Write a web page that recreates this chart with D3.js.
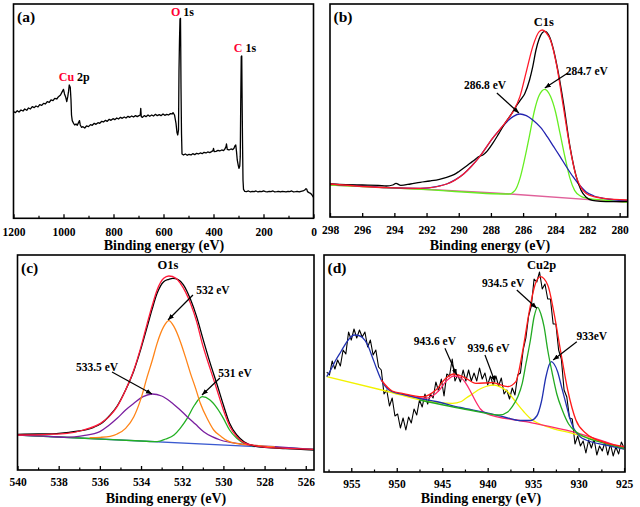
<!DOCTYPE html>
<html><head><meta charset="utf-8">
<script src="https://cdn.jsdelivr.net/npm/d3@7"></script>
<style>
html,body{margin:0;padding:0;background:#fff;}
</style></head><body>
<svg id="chart" width="640" height="507"></svg>
<script>
// ---------- DATA (binding energy eV, intensity a.u.) ----------
// (a) survey spectrum
const surveyData = [[1200,320],[1192,317],[1185,323],[1178,319],[1170,325],[1162,322],[1155,328],[1147,324],[1140,331],[1132,328],[1125,335],[1117,332],[1110,337],[1102,334],[1095,341],[1087,339],[1080,345],[1072,343],[1065,350],[1057,348],[1050,355],[1042,353],[1035,360],[1027,358],[1020,365],[1012,370],[1005,380],[1000,387],[996,373],[991,363],[987,350],[983,365],[980,380],[977,400],[973,393],[970,355],[968,310],[965,293],[960,285],[955,280],[950,283],[945,279],[940,287],[936,293],[933,280],[928,273],[922,275],[915,271],[908,277],[900,275],[892,281],[885,279],[877,285],[870,282],[862,287],[855,285],[847,291],[840,289],[832,294],[825,291],[817,297],[810,294],[802,299],[795,296],[787,301],[780,298],[772,303],[765,300],[757,304],[750,301],[742,306],[735,303],[727,307],[720,304],[712,308],[705,305],[698,308],[693,310],[691,330],[689,305],[684,303],[677,308],[670,305],[662,310],[655,306],[647,310],[640,307],[632,312],[625,308],[617,311],[610,308],[602,313],[595,309],[587,312],[580,310],[572,314],[565,313],[562,317],[556,310],[550,285],[546,257],[543,250],[540,265],[538,445],[536,535],[534,598],[532,600],[531,505],[530,395],[528,255],[526,193],[520,190],[513,193],[505,189],[498,192],[490,190],[483,194],[475,191],[468,195],[460,193],[453,196],[445,194],[438,198],[430,196],[423,199],[415,197],[408,200],[402,203],[400,210],[397,200],[390,201],[382,204],[375,202],[367,205],[360,203],[355,207],[350,215],[348,223],[345,207],[338,205],[330,208],[323,206],[318,210],[314,218],[311,220],[308,200],[305,175],[301,159],[298,150],[295,157],[293,185],[291,355],[289,485],[287,487],[286,395],[284,235],[282,115],[280,87],[275,81],[268,80],[260,82],[252,79],[245,81],[237,80],[230,82],[222,79],[215,81],[207,80],[200,82],[192,80],[185,79],[177,81],[170,80],[162,82],[155,79],[147,80],[140,81],[132,79],[125,81],[117,80],[110,79],[102,81],[95,80],[87,82],[80,79],[72,80],[65,81],[57,79],[50,81],[42,82],[35,85],[30,89],[27,87],[24,80],[18,77],[12,75],[6,70],[2,65],[0,63]];
const surveyTicks = [1200,1000,800,600,400,200,0];
const surveyMinor = [1100,900,700,500,300,100];

// (b) C1s
const c1sBaseline = [[298,96],[286.8,69],[279.5,44]];
const c1sPeak2847 = [[298,96],[292,82],[286.9,69],[286.5,80],[286.2,115],[285.9,175],[285.6,245],[285.3,318],[285.0,365],[284.65,383],[284.3,362],[284.0,318],[283.7,250],[283.4,180],[283.1,118],[282.8,80],[282.4,62],[282.0,56],[281.0,51],[279.5,44]];
const c1sPeak2868 = [[298,99],[296,93],[294.5,88],[292.4,86],[291.3,92],[290.75,99],[290.2,112],[289.7,129],[289.2,153],[288.7,181],[288.3,208],[287.9,236],[287.4,265],[287.0,286],[286.6,302],[286.2,309],[285.8,304],[285.4,291],[284.9,268],[284.5,241],[284.1,211],[283.7,181],[283.3,150],[282.9,121],[282.5,96],[282.1,76],[281.6,63],[281.0,56],[280.2,51],[279.5,49]];
const c1sFit = [[298,99],[294.5,88],[292.4,86],[290.75,99],[289.7,129],[288.7,181],[287.9,236],[287.4,265],[287.0,290],[286.6,318],[286.2,361],[285.8,436],[285.4,511],[285.0,556],[284.8,561],[284.55,552],[284.3,531],[283.9,451],[283.5,331],[283.1,211],[282.7,121],[282.4,88],[282.1,71],[281.5,60],[281.0,56],[279.5,51]];
const c1sData = [[298,99],[297,97],[296,96],[295,95],[294.5,93],[294.1,96],[293.9,101],[293.6,95],[293,99],[292.4,104],[291.8,108],[291.2,113],[290.75,119],[290.3,127],[290.0,136],[289.6,150],[289.3,161],[289.0,172],[288.8,180],[288.5,186],[288.3,194],[287.9,220],[287.5,251],[287.1,283],[286.7,311],[286.4,335],[286.1,355],[285.9,370],[285.6,411],[285.4,451],[285.2,501],[285.0,535],[284.8,553],[284.65,557],[284.4,545],[284.1,500],[283.9,455],[283.5,345],[283.1,215],[282.7,122],[282.4,80],[282.1,60],[281.7,50],[281.2,47],[280.5,46],[279.5,47]];
const c1sTicks = [298,296,294,292,290,288,286,284,282,280];

// (c) O1s
const o1sBaseline = [[540,105],[525.6,62]];
const o1sPeak531 = [[540,105],[537,96],[534,87],[533.22,85],[532.8,93],[532.4,105],[532.1,125],[531.76,155],[531.4,195],[531.03,220],[530.65,210],[530.3,185],[530.0,155],[529.7,120],[529.35,95],[529.0,80],[528.5,72],[527.5,68],[525.6,62]];
const o1sPeak5335 = [[540,105],[538.5,101],[537.6,98],[536.8,103],[536.0,115],[535.6,132],[535.16,155],[534.75,180],[534.35,200],[533.9,220],[533.46,228],[533.0,222],[532.57,205],[532.15,183],[531.76,160],[531.35,137],[530.96,115],[530.55,100],[530.15,90],[529.17,78],[527.5,70],[525.6,62]];
const o1sPeak532 = [[536.5,97],[535.97,98],[535.5,101],[535.16,108],[534.75,125],[534.35,160],[534.0,215],[533.70,280],[533.45,330],[533.22,380],[532.9,430],[532.65,448],[532.4,430],[532.09,385],[531.85,340],[531.6,290],[531.35,245],[531.12,200],[530.75,150],[530.47,120],[530.1,100],[529.82,88],[529.3,79],[528.5,74],[527.5,69]];
const o1sFit = [[540,105],[538.5,107],[537.59,110],[536.78,120],[535.97,140],[535.55,160],[535.16,190],[534.75,240],[534.35,300],[534.0,370],[533.70,440],[533.45,495],[533.22,540],[532.9,575],[532.65,582],[532.3,575],[532.09,560],[531.85,535],[531.6,500],[531.3,445],[531.03,380],[530.65,305],[530.31,240],[530.0,180],[529.68,130],[529.35,100],[529.01,82],[528.5,73],[527.88,68],[526.5,64],[525.6,62]];
const o1sData = [[540,107],[539,108],[538.5,108],[538,110],[537.5,113],[537,117],[536.6,122],[536.3,128],[535.97,138],[535.5,165],[535.16,192],[534.75,240],[534.35,298],[534.0,365],[533.70,430],[533.45,485],[533.22,530],[532.9,565],[532.65,572],[532.45,575],[532.2,571],[531.95,556],[531.6,512],[531.3,460],[531.0,395],[530.65,322],[530.3,255],[530.0,195],[529.7,140],[529.35,105],[529.0,85],[528.5,72],[528.0,68],[527,64],[525.6,60]];
const o1sTicks = [540,538,536,534,532,530,528,526];
const o1sMinor = [539,537,535,533,531,529,527];

// (d) Cu2p
const cuData = [[957.7,100],[957.4,97],[957.1,111],[956.8,103],[956.5,112],[956.2,106],[955.9,122],[955.6,118],[955.3,140],[955.0,132],[954.7,143],[954.4,134],[954.1,142],[953.8,135],[953.5,140],[953.2,125],[952.9,132],[952.6,117],[952.3,122],[952.0,105],[951.7,102],[951.4,78],[951.1,82],[950.8,66],[950.5,74],[950.2,56],[949.9,58],[949.6,44],[949.3,54],[949.0,42],[948.7,55],[948.4,49],[948.1,63],[947.8,57],[947.5,72],[947.2,65],[946.9,78],[946.6,68],[946.3,78],[946.0,74],[945.7,90],[945.4,81],[945.1,93],[944.8,76],[944.5,98],[944.2,96],[943.9,113],[943.6,91],[943.3,97],[943.0,90],[942.7,102],[942.4,91],[942.1,102],[941.8,91],[941.5,99],[941.2,91],[940.9,104],[940.6,93],[940.3,99],[940.0,87],[939.7,96],[939.4,87],[939.1,96],[938.8,86],[938.5,94],[938.2,78],[937.9,82],[937.6,73],[937.3,84],[937.0,77],[936.7,97],[936.4,99],[936.1,122],[935.8,134],[935.5,156],[935.2,166],[934.9,193],[934.6,190],[934.3,200],[934.0,183],[933.7,188],[933.4,173],[933.1,173],[932.8,148],[932.5,148],[932.2,122],[931.9,113],[931.6,82],[931.3,75],[931.0,54],[930.7,53],[930.4,28],[930.1,36],[929.8,26],[929.5,31],[929.2,19],[928.9,32],[928.6,24],[928.3,33],[928.0,17],[927.7,26],[927.4,21],[927.1,30],[926.8,17],[926.5,28],[926.2,16],[925.9,25],[925.6,18],[925.3,30],[925.0,24]];
const cuPeak9396 = [[957.7,95.3],[951.2,81],[946.4,70.3],[943.9,68.7],[942.9,70.5],[942.4,73.7],[941.6,78.5],[940.9,82.7],[940.2,85.5],[939.3,87],[938.5,84.5],[937.8,80.3],[937.2,73.5],[936.5,65.3],[936.0,60],[935.1,52],[934.5,49],[932.9,43.7],[930.7,38.7],[925,23]];
const cuPeak9436 = [[949.4,78],[946.8,73.7],[946.0,76.5],[945.3,82],[944.5,91.5],[943.7,96],[942.9,94],[942.4,88.7],[941.8,79],[941.3,70.3],[940.8,63],[940.2,58.7],[935.8,50.3],[930.7,40.3],[925,23.7]];
const cuPeak933 = [[957.7,95.3],[957.2,103],[956.7,112],[956.1,121],[955.6,128.7],[955.1,134.5],[954.7,137],[954.2,136.5],[953.8,134.7],[953.2,127],[952.7,115.3],[952.2,103],[951.7,92],[951.1,84],[950.5,80.3],[949,77],[947.5,73.5],[945.7,70.5],[943,64.5],[940.2,59.3],[938,54.5],[936.5,51.5],[935.3,51.5],[934.6,56],[934.1,70],[933.6,95],[933.2,108],[933.0,110.3],[932.7,108],[932.3,100],[931.9,86],[931.4,68.7],[930.9,52],[930.5,43],[929.8,35],[929.2,32],[927,27],[925,23]];
const cuPeak9345 = [[947.5,72],[942,62],[938.7,57],[937.8,60],[937.3,65.3],[936.7,75],[936.2,88.7],[935.8,108],[935.3,132],[934.9,155],[934.5,164.7],[934.15,158],[933.8,145.3],[933.4,122],[932.9,98.7],[932.4,78],[931.8,62],[931.1,48],[930.3,40.3],[927.4,29.3],[925,23.7]];
const cuFit = [[951.7,92],[950.5,81],[949.4,78.7],[947.2,75.3],[945.7,82],[944.6,93.7],[943.7,98],[942.4,93.7],[941.3,88.7],[939.5,89.3],[937.8,85.3],[936.9,90.3],[936.2,118.7],[935.4,162],[934.8,187],[934.2,195.3],[933.4,187],[932.7,158.7],[932.0,122],[931.2,82],[930.3,52],[929.2,38.7],[927.4,30.3],[925,25.3]];
const cuTicks = [955,950,945,940,935,930,925];
const cuMinor = [957.5,952.5,947.5,942.5,937.5,932.5,927.5];

// ---------- DRAWING ----------
const FONT = "'Liberation Serif', 'DejaVu Serif', serif";
const svg = d3.select("#chart");
svg.append("rect").attr("width",640).attr("height",507).attr("fill","#fff");
const defs = svg.append("defs");
defs.append("marker").attr("id","arrow").attr("viewBox","0 -5 10 10")
  .attr("refX",10).attr("refY",0).attr("markerWidth",6).attr("markerHeight",6)
  .attr("markerUnits","userSpaceOnUse").attr("orient","auto")
  .append("path").attr("d","M0,-4L10,0L0,4Z").attr("fill","#000");

function txt(sel){ return sel.attr("font-family",FONT).attr("font-weight","bold"); }

function drawPanel(cfg){
  const x = d3.scaleLinear().domain(cfg.xDomain).range([cfg.left,cfg.right]);
  const y = d3.scaleLinear().domain(cfg.yDomain).range([cfg.bottom,cfg.top]);
  const g = svg.append("g");
  defs.append("clipPath").attr("id","clip-"+cfg.id).append("rect")
    .attr("x",cfg.left).attr("y",cfg.top).attr("width",cfg.right-cfg.left).attr("height",cfg.bottom-cfg.top);
  const plot = g.append("g").attr("clip-path",`url(#clip-${cfg.id})`);
  cfg.series.forEach(s=>{
    const line = d3.line().x(d=>x(d[0])).y(d=>y(d[1]))
      .curve(s.smooth ? d3.curveMonotoneX : d3.curveLinear);
    plot.append("path").datum(s.data).attr("d",line).attr("fill","none")
      .attr("stroke",s.color).attr("stroke-width",s.width||1.3).attr("stroke-linejoin","round");
  });
  const ax = g.append("g").attr("transform",`translate(0,${cfg.bottom})`)
    .call(d3.axisBottom(x).tickValues(cfg.ticks).tickSize(-4).tickSizeOuter(0)
      .tickPadding(cfg.pad).tickFormat(d3.format("d")));
  ax.attr("font-family",FONT).attr("font-weight","bold").attr("font-size",11.5);
  ax.select(".domain").remove();
  ax.selectAll(".tick line").attr("stroke","#000").attr("stroke-width",1.3);
  txt(ax.selectAll(".tick text")).attr("font-size",11.5).attr("fill","#000");
  if(cfg.minor){
    const mx = g.append("g").attr("transform",`translate(0,${cfg.bottom})`)
      .call(d3.axisBottom(x).tickValues(cfg.minor).tickSize(-2.5).tickSizeOuter(0).tickFormat(""));
    mx.select(".domain").remove();
    mx.selectAll(".tick line").attr("stroke","#000").attr("stroke-width",1.2);
  }
  g.append("rect").attr("x",cfg.left).attr("y",cfg.top).attr("width",cfg.right-cfg.left)
    .attr("height",cfg.bottom-cfg.top).attr("fill","none").attr("stroke","#000").attr("stroke-width",1.6);
  txt(g.append("text")).attr("x",cfg.titleX).attr("y",cfg.titleY).attr("text-anchor","middle")
    .attr("font-size",14).text("Binding energy (eV)");
  txt(g.append("text")).attr("x",cfg.left+3.5).attr("y",cfg.top+18).attr("font-size",15.5).text(cfg.label);
  (cfg.arrows||[]).forEach(a=>{
    g.append("line").attr("x1",x(a[0][0])).attr("y1",y(a[0][1])).attr("x2",x(a[1][0])).attr("y2",y(a[1][1]))
      .attr("stroke","#000").attr("stroke-width",1.2).attr("marker-end","url(#arrow)");
  });
  (cfg.notes||[]).forEach(n=>{
    const t = txt(g.append("text")).attr("x",x(n.at[0])).attr("y",y(n.at[1])).attr("dy","0.35em")
      .attr("text-anchor","middle").attr("font-size",n.size||11.5);
    n.parts.forEach(p=>t.append("tspan").attr("fill",p[1]||"#000").text(p[0]));
  });
}

drawPanel({id:"a", xDomain:[1200,0], yDomain:[0,643], left:13.5, right:313.5, top:4, bottom:218.3,
  ticks:surveyTicks, minor:surveyMinor, pad:9.5, titleX:164, titleY:249.5, label:"(a)",
  series:[{data:surveyData,color:"#000",width:1.3}],
  notes:[{at:[524,620],parts:[["O","#ff0033"],[" 1s"]],size:12},
         {at:[274,511],parts:[["C","#ff0033"],[" 1s"]],size:12},
         {at:[957,424],parts:[["Cu","#ff0033"],[" 2p"]],size:12}]
});

drawPanel({id:"b", xDomain:[298,279.5], yDomain:[0,639], left:330, right:627.7, top:4, bottom:217,
  ticks:c1sTicks, pad:8.5, titleX:490, titleY:249.5, label:"(b)",
  series:[{data:c1sBaseline,color:"#e0609a",smooth:true},
          {data:c1sPeak2847,color:"#66ee22",smooth:true},
          {data:c1sPeak2868,color:"#2323b0",smooth:true},
          {data:c1sData,color:"#000",smooth:true},
          {data:c1sFit,color:"#ff1a2a",smooth:true}],
  arrows:[[[283.22,432],[284.65,387]],[[287.63,372],[286.26,312]]],
  notes:[{at:[284.71,585],parts:[["C1s"]],size:12.5},
         {at:[282.04,438],parts:[["284.7 eV"]]},
         {at:[288.37,396],parts:[["286.8 eV"]]}]
});

drawPanel({id:"c", xDomain:[540,525.6], yDomain:[0,645], left:17.5, right:314, top:255, bottom:470,
  ticks:o1sTicks, minor:o1sMinor, pad:8, titleX:166, titleY:502.5, label:"(c)",
  series:[{data:o1sBaseline,color:"#3a5ad0",smooth:true},
          {data:o1sPeak531,color:"#22b022",smooth:true},
          {data:o1sPeak5335,color:"#7a1fa0",smooth:true},
          {data:o1sPeak532,color:"#ff8418",smooth:true},
          {data:o1sData,color:"#000",smooth:true},
          {data:o1sFit,color:"#ff1a3a",smooth:true}],
  arrows:[[[531.48,525],[532.69,450]],[[535.41,294],[533.47,228]],[[530.17,276],[531.04,225]]],
  notes:[{at:[532.69,615],parts:[["O1s"]],size:12.5},
         {at:[530.51,540],parts:[["532 eV"]]},
         {at:[536.14,309],parts:[["533.5 eV"]]},
         {at:[529.44,291],parts:[["531 eV"]]}]
});

drawPanel({id:"d", xDomain:[958,924.9], yDomain:[0,217], left:324, right:625, top:255, bottom:472,
  ticks:cuTicks, minor:cuMinor, pad:7.5, titleX:481, titleY:502.5, label:"(d)",
  series:[{data:cuData,color:"#000",width:1.1},
          {data:cuPeak9396,color:"#f2f200",smooth:true},
          {data:cuPeak9436,color:"#ff2a6a",smooth:true},
          {data:cuPeak933,color:"#2030b0",smooth:true},
          {data:cuPeak9345,color:"#22aa22",smooth:true},
          {data:cuFit,color:"#ff1a1a",smooth:true}],
  arrows:[[[936.8,182],[934.6,163.7]],[[930.2,130.3],[932.8,112]],[[944.7,123.7],[943.4,97]],[[940.3,117],[939.2,90.3]]],
  notes:[{at:[934.06,207],parts:[["Cu2p"]],size:12.5},
         {at:[938.3,188.7],parts:[["934.5 eV"]]},
         {at:[928.56,136],parts:[["933eV"]]},
         {at:[945.8,131.3],parts:[["943.6 eV"]]},
         {at:[939.9,124.3],parts:[["939.6 eV"]]}]
});
</script></body></html>
